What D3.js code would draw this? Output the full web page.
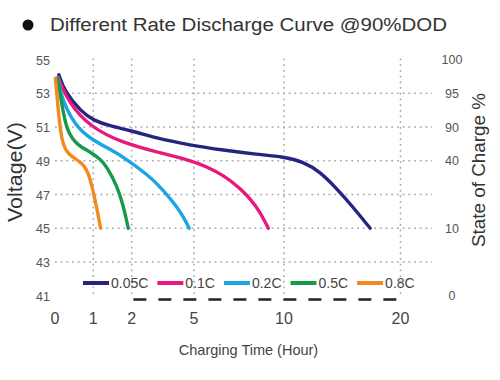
<!DOCTYPE html>
<html>
<head>
<meta charset="utf-8">
<script src="https://cdn.jsdelivr.net/npm/d3@7"></script>
<style>
  html, body { margin: 0; padding: 0; background: #fff; }
  svg { display: block; font-family: "Liberation Sans", Arial, sans-serif; }
</style>
</head>
<body>
<svg id="chart" width="500" height="380"></svg>
<script>
// ---- data ----
const title = "Different Rate Discharge Curve @90%DOD";
const xTicks = [0, 1, 2, 5, 10, 20];
const yTicks = [55, 53, 51, 49, 47, 45, 43, 41];
const yGrid = [53, 51, 49, 47, 45, 43];
const xGrid = [1, 2, 5, 10, 20];
const socLabels = [100, 95, 90, 40, 10, 0];
const socVolts = [55, 53, 51, 49, 45, 41];
const seriesNames = ["0.05C", "0.1C", "0.2C", "0.5C", "0.8C"];
const seriesColors = ["#25247f", "#e8197d", "#1ba6e1", "#15994a", "#f28b1f"];

const hours005 = [0.1, 0.25, 0.69, 1, 1.44, 2, 3.2, 4.8, 6.63, 8.5, 10, 11.66, 13.1, 14.5, 15.9, 17.4];
const volts005 = [54.1, 53.1, 51.9, 51.4, 51.05, 50.78, 50.33, 49.93, 49.63, 49.38, 49.24, 48.94, 48.35, 47.37, 46.28, 45.0];
const hours01 = [0.08, 0.34, 0.91, 1.78, 3.2, 4.8, 5.7, 6.63, 7.56, 8.1, 8.67, 9.13];
const volts01 = [53.95, 52.5, 51.0, 50.05, 49.53, 49.04, 48.65, 48.15, 47.37, 46.78, 45.98, 45.0];
const hours02 = [0.08, 0.17, 0.52, 0.91, 1.35, 1.78, 2.8, 3.52, 4.17, 4.48, 4.77];
const volts02 = [53.9, 52.7, 51.1, 50.33, 49.78, 49.24, 48.15, 47.27, 46.28, 45.69, 45.0];
const hours05 = [0.06, 0.17, 0.30, 0.61, 0.91, 1.2, 1.35, 1.61, 1.78, 1.91];
const volts05 = [53.9, 52.5, 50.72, 49.87, 49.55, 49.07, 48.65, 47.56, 46.38, 45.0];
const hours08 = [0.01, 0.08, 0.17, 0.34, 0.69, 0.87, 1.0, 1.11, 1.19];
const volts08 = [53.9, 52.1, 50.12, 49.34, 48.94, 48.35, 47.17, 45.98, 45.0];

const seriesHours = [hours005, hours01, hours02, hours05, hours08];
const seriesVolts = [volts005, volts01, volts02, volts05, volts08];

// ---- scales ----
const svg = d3.select("#chart");
const x = d3.scaleLinear().domain(xTicks).range([55, 93.3, 131.7, 194, 284, 400.5]);
const y = d3.scaleLinear().domain([45, 53]).range([228.3, 93.3]);

// ---- title ----
svg.append("circle").attr("cx", 28).attr("cy", 25).attr("r", 5.5).attr("fill", "#111");
svg.append("text").attr("x", 50).attr("y", 31)
  .attr("font-size", 18).attr("fill", "#333")
  .attr("textLength", 397).attr("lengthAdjust", "spacingAndGlyphs")
  .text(title);

// ---- grid ----
const grid = svg.append("g").attr("stroke", "#a8a8a8").attr("stroke-width", 1.5)
  .attr("stroke-dasharray", "1.8,3.9").attr("fill", "none");
grid.selectAll("line.h").data(yGrid).join("line").attr("class", "h")
  .attr("x1", 55).attr("x2", 432).attr("y1", d => y(d)).attr("y2", d => y(d));
grid.selectAll("line.v").data(xGrid).join("line").attr("class", "v")
  .attr("x1", d => x(d)).attr("x2", d => x(d)).attr("y1", y(55) - 1).attr("y2", y(41));

// ---- left axis labels ----
svg.append("g").selectAll("text").data(yTicks).join("text")
  .attr("x", 50).attr("y", d => y(d)).attr("dy", "0.4em")
  .attr("text-anchor", "end").attr("font-size", 12.5).attr("fill", "#555")
  .text(d => d);

// ---- right axis labels ----
svg.append("g").selectAll("text").data(socLabels).join("text")
  .attr("x", 452).attr("y", (d, i) => y(socVolts[i])).attr("dy", "0.36em")
  .attr("text-anchor", "middle").attr("font-size", 12.5).attr("fill", "#555")
  .text(d => d);

// ---- x labels ----
svg.append("g").selectAll("text").data(xTicks).join("text")
  .attr("x", d => x(d)).attr("y", 324)
  .attr("text-anchor", "middle").attr("font-size", 16).attr("fill", "#444")
  .text(d => d);

// ---- axis titles ----
svg.append("text").attr("transform", "translate(22,172) rotate(-90)")
  .attr("text-anchor", "middle").attr("font-size", 20).attr("fill", "#333")
  .attr("textLength", 100).attr("lengthAdjust", "spacingAndGlyphs")
  .text("Voltage(V)");
svg.append("text").attr("transform", "translate(485,170) rotate(-90)")
  .attr("text-anchor", "middle").attr("font-size", 19).attr("fill", "#333")
  .attr("textLength", 154).attr("lengthAdjust", "spacingAndGlyphs")
  .text("State of Charge %");
svg.append("text").attr("x", 248.5).attr("y", 355)
  .attr("text-anchor", "middle").attr("font-size", 14.5).attr("fill", "#444")
  .text("Charging Time (Hour)");

// ---- dashed baseline ----
svg.append("line")
  .attr("x1", x(2.08)).attr("x2", x(20.6)).attr("y1", 299.5).attr("y2", 299.5)
  .attr("stroke", "#222").attr("stroke-width", 2.5).attr("stroke-dasharray", "13,12");

// ---- curves ----
const line = d3.line().x(d => x(d[0])).y(d => y(d[1])).curve(d3.curveBasis);
svg.append("g").selectAll("path").data(seriesNames).join("path")
  .attr("d", (d, i) => line(seriesHours[i].map((h, j) => [h, seriesVolts[i][j]])))
  .attr("fill", "none").attr("stroke", (d, i) => seriesColors[i])
  .attr("stroke-width", 3.4).attr("stroke-linecap", "round").attr("stroke-linejoin", "round");

// ---- legend ----
const legend = svg.append("g");
let lx = 83;
seriesNames.forEach((name, i) => {
  legend.append("line").attr("x1", lx).attr("x2", lx + 26).attr("y1", 283).attr("y2", 283)
    .attr("stroke", seriesColors[i]).attr("stroke-width", 4);
  const t = legend.append("text").attr("x", lx + 28).attr("y", 288)
    .attr("font-size", 14).attr("fill", "#444").text(name);
  lx += 28 + t.node().getComputedTextLength() + 9;
});
</script>
</body>
</html>
